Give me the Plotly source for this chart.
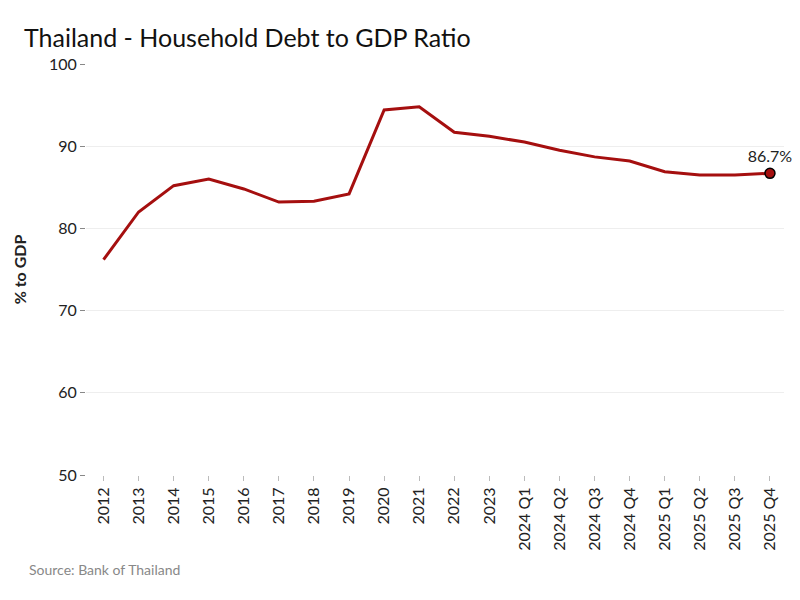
import plotly.graph_objects as go

categories = ["2012","2013","2014","2015","2016","2017","2018","2019","2020","2021","2022","2023",
              "2024 Q1","2024 Q2","2024 Q3","2024 Q4","2025 Q1","2025 Q2","2025 Q3","2025 Q4"]
values = [76.2,82.0,85.2,86.0,84.8,83.2,83.3,84.2,94.4,94.8,91.7,91.2,90.5,89.5,88.7,88.2,86.9,86.5,86.5,86.7]
y_ticks = [50,60,70,80,90,100]

fig = go.Figure()
fig.add_trace(go.Scatter(x=categories, y=values, mode="lines", line=dict(color="#a50f0f", width=3),
                         hoverinfo="skip", showlegend=False))
fig.add_trace(go.Scatter(x=[categories[-1]], y=[values[-1]], mode="markers+text",
                         marker=dict(color="#a50f0f", size=10, line=dict(color="black", width=1.5)),
                         text=[f"{values[-1]}%"], textposition="top center", cliponaxis=False,
                         textfont=dict(size=16, color="#222"), showlegend=False))
fig.update_layout(
    width=800, height=600, plot_bgcolor="white", paper_bgcolor="white",
    font=dict(family="Lato, Open Sans, sans-serif", color="#222"),
    title=dict(text="Thailand - Household Debt to GDP Ratio", x=0.02, y=0.965, xanchor="left",
               font=dict(size=25, color="#111")),
    margin=dict(l=78, r=24, t=56, b=133),
    xaxis=dict(type="category", tickangle=-90, tickfont=dict(size=16), showgrid=False,
               ticks="outside", ticklen=5, tickcolor="#bbb", showline=False, range=[-0.5, 19.4]),
    yaxis=dict(range=[50, 100], tickvals=y_ticks, tickfont=dict(size=16), showgrid=True,
               gridcolor="#eee", zeroline=False, ticks="outside", ticklen=5, tickcolor="#888",
               title=dict(text="<b>% to GDP</b>", font=dict(size=16), standoff=18)),
    annotations=[dict(text="Source: Bank of Thailand", x=-0.085, y=-0.205, xref="paper", yref="paper",
                      xanchor="left", yanchor="top", showarrow=False,
                      font=dict(size=14, color="#888"))],
)
fig.write_html("out.html")
